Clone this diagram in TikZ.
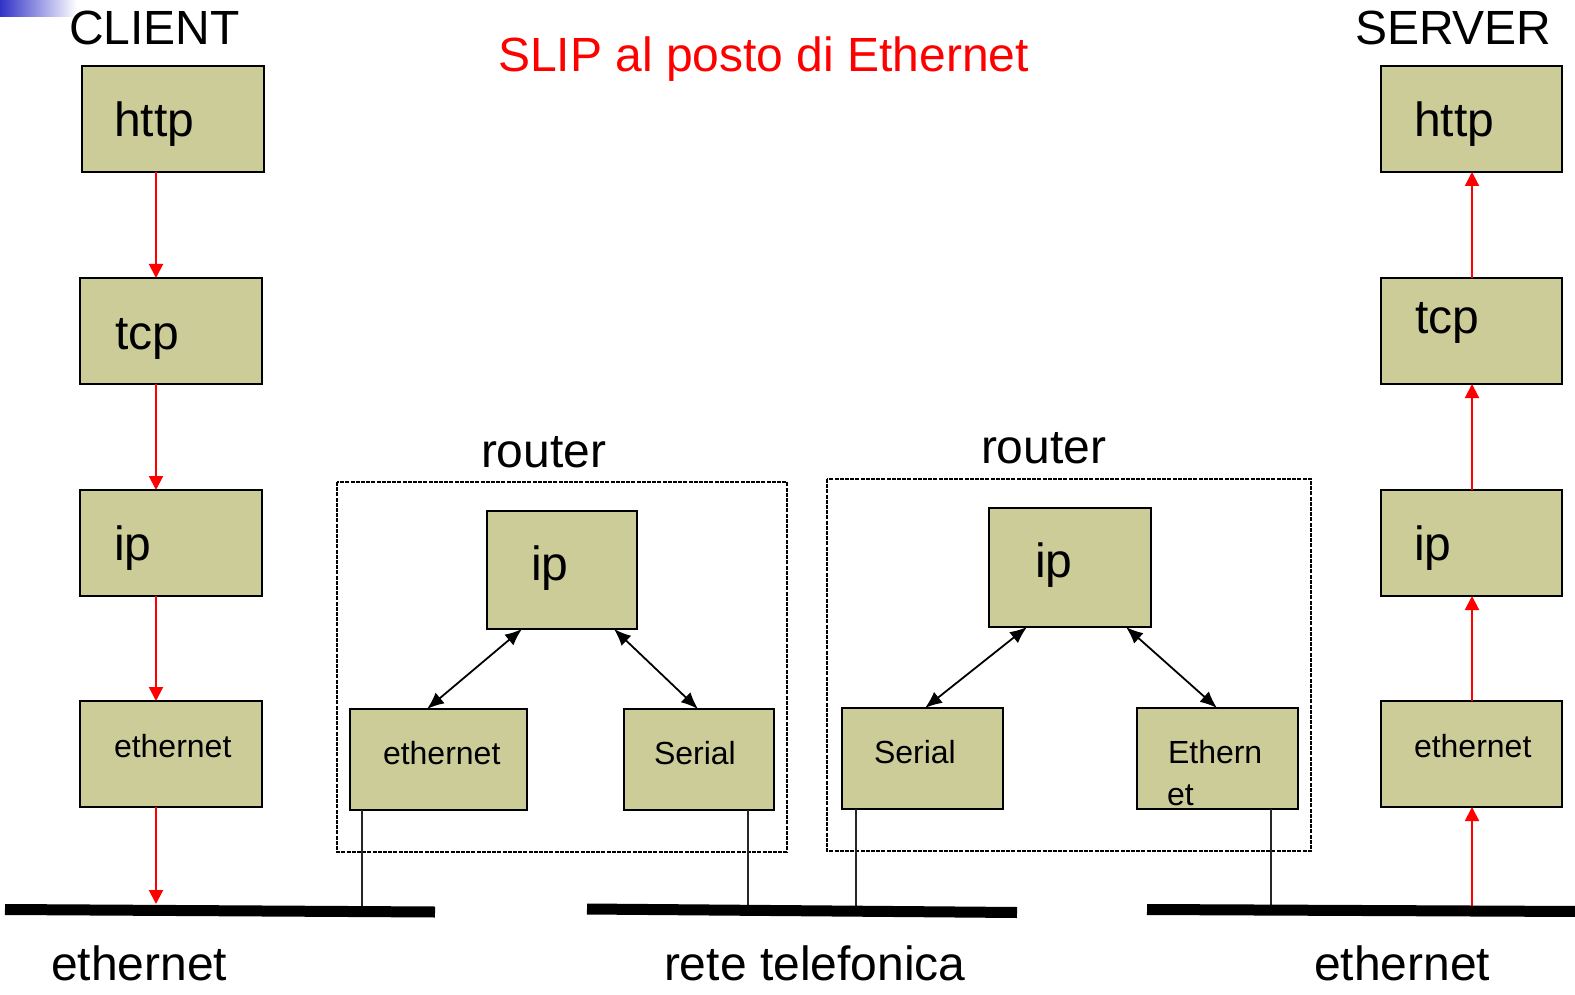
\documentclass[tikz,border=0pt]{standalone}
\usepackage{fontspec}
\setmainfont{Liberation Sans}
\usetikzlibrary{arrows.meta}

\definecolor{layerfill}{RGB}{204,204,153}
\definecolor{barblue}{RGB}{50,50,200}

\tikzset{
  layer/.style={draw=black, line width=2pt, fill=layerfill, anchor=north west,
                inner sep=0pt, outer sep=0pt},
  big/.style={anchor=base west, inner sep=0pt, outer sep=0pt,
              font=\fontsize{48}{57}\selectfont},
  small/.style={anchor=base west, inner sep=0pt, outer sep=0pt,
                font=\fontsize{32}{38}\selectfont},
  flow/.style={draw=red, line width=2pt, -{Triangle[length=14pt,width=14pt]}},
  link/.style={draw=black, line width=1.8pt,
               {Latex[length=17pt,width=14pt]}-{Latex[length=17pt,width=14pt]}},
  drop/.style={draw=black!85, line width=1.5pt},
  bus/.style={draw=black, line width=11pt},
  routerbox/.style={draw=black, line width=2pt, dash pattern=on 4pt off 1.2pt},
}

\begin{document}
\begin{tikzpicture}[x=1pt, y=-1pt]
\useasboundingbox (0,0) rectangle (1575,995);

% corner bar
\shade[left color=barblue, right color=white] (0,0) rectangle (77,17);

% titles
\node[big] (client) at (69,45) {CLIENT};
\node[big] (server) at (1355,45) {SERVER};
\node[big, text=red] (title) at (498,72) {SLIP al posto di Ethernet};

% client stack
\node[layer, minimum width=182pt, minimum height=106pt] (chttp) at (82,66) {};
\node[layer, minimum width=182pt, minimum height=106pt] (ctcp) at (80,278) {};
\node[layer, minimum width=182pt, minimum height=106pt] (cip) at (80,490) {};
\node[layer, minimum width=182pt, minimum height=106pt] (ceth) at (80,701) {};
\node[big] (chttpt) at (114,137) {http};
\node[big] (ctcpt) at (115,349) {tcp};
\node[big] (cipt) at (114,560) {ip};
\node[small] (cetht) at (114,757) {ethernet};

% server stack
\node[layer, minimum width=181pt, minimum height=106pt] (shttp) at (1381,66) {};
\node[layer, minimum width=181pt, minimum height=106pt] (stcp) at (1381,278) {};
\node[layer, minimum width=181pt, minimum height=106pt] (sip) at (1381,490) {};
\node[layer, minimum width=181pt, minimum height=106pt] (seth) at (1381,701) {};
\node[big] (shttpt) at (1414,137) {http};
\node[big] (stcpt) at (1415,333) {tcp};
\node[big] (sipt) at (1414,560) {ip};
\node[small] (setht) at (1414,757) {ethernet};

% first router
\draw[routerbox] (337,482) rectangle (787,852);
\node[big] (r1lab) at (481,467) {router};
\node[layer, minimum width=150pt, minimum height=118pt] (r1ip) at (487,511) {};
\node[layer, minimum width=177pt, minimum height=101pt] (r1eth) at (350,709) {};
\node[layer, minimum width=150pt, minimum height=101pt] (r1ser) at (624,709) {};
\node[big] (r1ipt) at (531,580) {ip};
\node[small] (r1etht) at (383,764) {ethernet};
\node[small] (r1sert) at (654,764) {Serial};

% second router
\draw[routerbox] (827,479) rectangle (1311,851);
\node[big] (r2lab) at (981,463) {router};
\node[layer, minimum width=162pt, minimum height=119pt] (r2ip) at (989,508) {};
\node[layer, minimum width=161pt, minimum height=101pt] (r2ser) at (842,708) {};
\node[layer, minimum width=161pt, minimum height=101pt] (r2eth) at (1137,708) {};
\node[big] (r2ipt) at (1035,577) {ip};
\node[small] (r2sert) at (874,763) {Serial};
\node[small] (r2etht) at (1168,763) {Ethern};
\node[small] (r2etht2) at (1167,805) {et};

% columns of the red flow arrows and bus attachment points
\coordinate (cx) at (156,0);
\coordinate (sx) at (1472,0);
\coordinate (cbus) at (156,904);
\coordinate (sbus) at (1472,911);
\coordinate (b1) at (362,911);
\coordinate (b2) at (748,910);
\coordinate (b3) at (856,910);
\coordinate (b4) at (1271,910);

% client: data goes down
\draw[flow] (chttp.south -| cx) -- (ctcp.north -| cx);
\draw[flow] (ctcp.south -| cx) -- (cip.north -| cx);
\draw[flow] (cip.south -| cx) -- (ceth.north -| cx);
\draw[flow] (ceth.south -| cx) -- (cbus);

% server: data goes up
\draw[flow] (sbus) -- (seth.south -| sx);
\draw[flow] (seth.north -| sx) -- (sip.south -| sx);
\draw[flow] (sip.north -| sx) -- (stcp.south -| sx);
\draw[flow] (stcp.north -| sx) -- (shttp.south -| sx);

% router internals
\draw[link] ([xshift=35pt]r1ip.south west) -- ([xshift=77pt]r1eth.north west);
\draw[link] ([xshift=-23pt]r1ip.south east) -- ([xshift=74pt]r1ser.north west);
\draw[link] ([xshift=38pt]r2ip.south west) -- ([xshift=83pt]r2ser.north west);
\draw[link] ([xshift=-25pt]r2ip.south east) -- ([xshift=80pt]r2eth.north west);

% interface drops to the networks
\draw[drop] ([xshift=12pt]r1eth.south west) -- (b1);
\draw[drop] ([xshift=124pt]r1ser.south west) -- (b2);
\draw[drop] ([xshift=14pt]r2ser.south west) -- (b3);
\draw[drop] ([xshift=134pt]r2eth.south west) -- (b4);

% network segments
\draw[bus] (5,909.5) -- (435,912);
\draw[bus] (587,909) -- (1017,912.5);
\draw[bus] (1147,909.5) -- (1580,911.5);

% network names
\node[big] (n1) at (51,980) {ethernet};
\node[big] (n2) at (664,980) {rete telefonica};
\node[big] (n3) at (1314,980) {ethernet};
\end{tikzpicture}
\end{document}
